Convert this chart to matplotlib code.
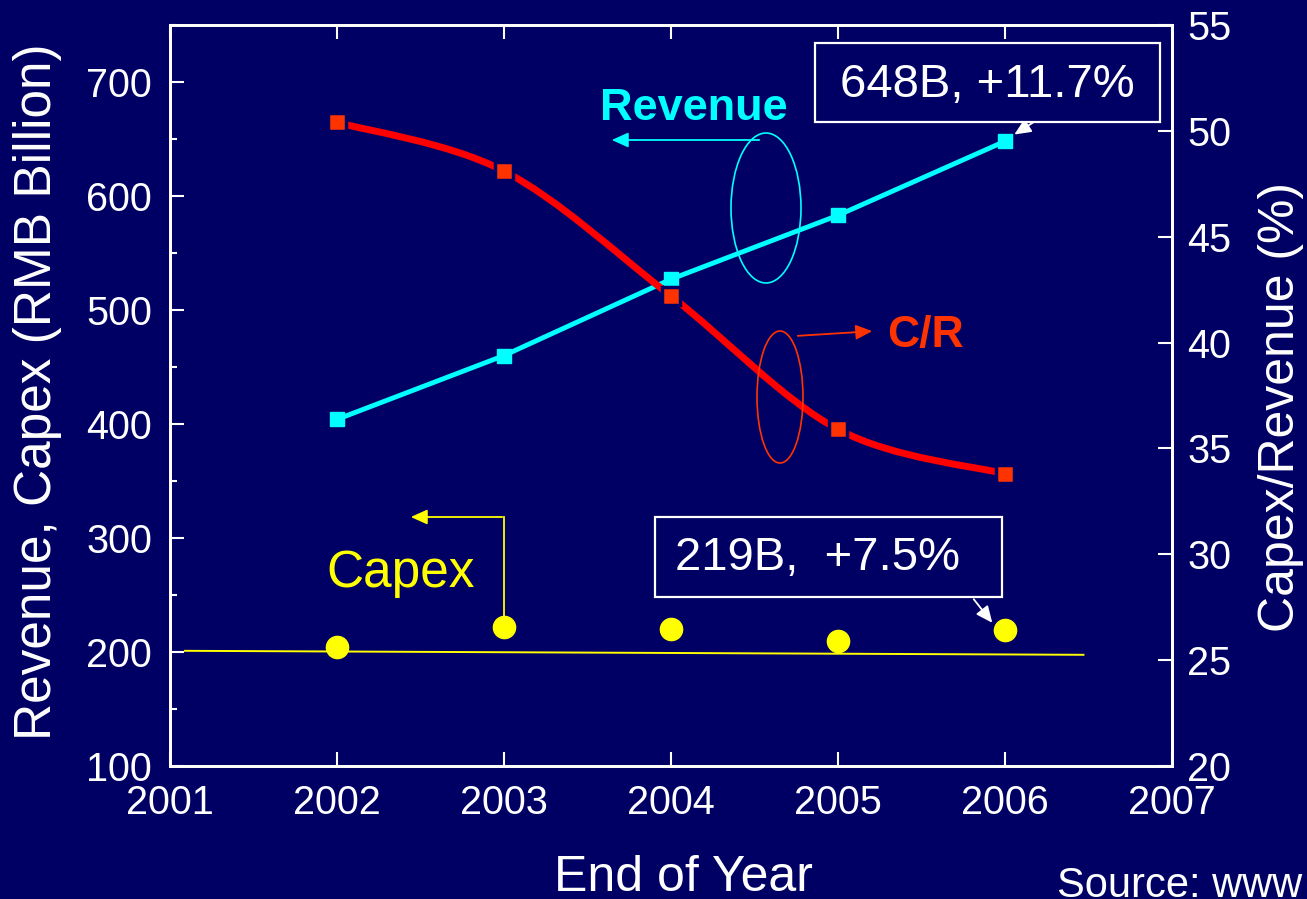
import matplotlib
matplotlib.use("Agg")
import matplotlib.pyplot as plt
from matplotlib.path import Path
from matplotlib.patches import PathPatch, Ellipse, Rectangle
from matplotlib.ticker import MultipleLocator
import numpy as np

plt.rcParams['font.family'] = ['Liberation Sans', 'DejaVu Sans']

# ---- data ----
years = [2002, 2003, 2004, 2005, 2006]
revenue = [404, 460, 527, 583, 648]
capex = [204, 222, 220, 210, 219]
cr_ratio = [50.4, 48.1, 42.2, 35.9, 33.8]
trend_x = [2001.09, 2006.47]
trend_y = [201.0, 197.5]
x_ticks = [2001, 2002, 2003, 2004, 2005, 2006, 2007]
left_ticks = [100, 200, 300, 400, 500, 600, 700]
right_ticks = [20, 25, 30, 35, 40, 45, 50, 55]

BG = '#000064'
CYAN = '#00FFFF'
RED = '#FF0000'
ORANGE = '#FF3300'
YELLOW = '#FFFF00'
WHITE = 'white'

fig = plt.figure(figsize=(13.07, 8.99), dpi=100, facecolor=BG)
ax = fig.add_axes([0.130, 0.148, 0.7667, 0.8242])
ax.set_facecolor(BG)
ax2 = ax.twinx()

ax.set_xlim(2001, 2007)
ax.set_ylim(100, 750)
ax2.set_ylim(20, 55)

for a in (ax, ax2):
    for s in a.spines.values():
        s.set_color(WHITE)
        s.set_linewidth(2)

ax.set_xticks(x_ticks)
ax.set_xticklabels([str(v) for v in x_ticks])
ax.set_yticks(left_ticks)
ax.yaxis.set_minor_locator(MultipleLocator(50))
ax2.set_yticks(right_ticks)

ax.tick_params(axis='x', which='major', direction='in', length=10, width=1.5,
               colors=WHITE, labelsize=28.5, pad=13, top=True)
ax.tick_params(axis='y', which='major', direction='in', length=10, width=1.5,
               colors=WHITE, labelsize=28.5, pad=13)
ax.tick_params(axis='y', which='minor', direction='in', length=5, width=1.5,
               colors=WHITE)
ax2.tick_params(axis='y', which='major', direction='in', length=10, width=1.5,
                colors=WHITE, labelsize=28.5, pad=11)

# Capex trend line and points
ax.plot(trend_x, trend_y, color=YELLOW, lw=1.4, zorder=2)
ax.plot(years, capex, 'o', color=YELLOW, markersize=16, zorder=4)

# Revenue line
ax.plot(years, revenue, '-s', color=CYAN, lw=3.5, markersize=10.5, zorder=5)

# C/R smooth curve (Catmull-Rom through data points, drawn as bezier)
pts = np.column_stack([years, cr_ratio]).astype(float)
ext = np.vstack([pts[0], pts, pts[-1]])
verts = [tuple(pts[0])]
codes = [Path.MOVETO]
for i in range(1, len(ext) - 2):
    p0, p1, p2, p3 = ext[i - 1], ext[i], ext[i + 1], ext[i + 2]
    c1 = p1 + (p2 - p0) / 6.0
    c2 = p2 - (p3 - p1) / 6.0
    verts += [tuple(c1), tuple(c2), tuple(p2)]
    codes += [Path.CURVE4] * 3
curve = PathPatch(Path(verts, codes), facecolor='none', edgecolor=RED, lw=5,
                  transform=ax2.transData, zorder=3)
ax2.add_patch(curve)
ax2.plot(years, cr_ratio, 's', color=ORANGE, markersize=12.5,
         markeredgecolor=BG, markeredgewidth=2.5, zorder=4)

def fx(px):
    return px / 1307
def fy(py):
    return 1 - py / 899
ft = fig.transFigure

# Series labels
fig.text(fx(694), fy(108), 'Revenue', color=CYAN, fontsize=32.5,
         fontweight='bold', ha='center', va='center')
fig.text(fx(925), fy(335), 'C/R', color=ORANGE, fontsize=32,
         fontweight='bold', ha='center', va='center')
fig.text(fx(401), fy(573), 'Capex', color=YELLOW, fontsize=37,
         ha='center', va='center')

# Ellipses
fig.patches.append(Ellipse((fx(766), fy(208)), 70 / 1307, 150 / 899,
                           transform=ft, facecolor='none', edgecolor=CYAN, lw=1.2))
fig.patches.append(Ellipse((fx(780), fy(397)), 46 / 1307, 132 / 899,
                           transform=ft, facecolor='none', edgecolor=ORANGE, lw=1.2))

# Arrows
arrow_kw = dict(arrowstyle='-|>,head_length=1.0,head_width=0.45', lw=1.3)
ax.annotate('', xy=(fx(609), fy(140)), xycoords='figure fraction',
            xytext=(fx(762), fy(140)), textcoords='figure fraction',
            arrowprops=dict(color=CYAN, **arrow_kw))
ax.annotate('', xy=(fx(875), fy(331)), xycoords='figure fraction',
            xytext=(fx(795), fy(336)), textcoords='figure fraction',
            arrowprops=dict(color=ORANGE, **arrow_kw))
fig.add_artist(plt.Line2D([fx(504), fx(504)], [fy(617), fy(517)],
                          transform=ft, color=YELLOW, lw=1.3))
ax.annotate('', xy=(fx(408), fy(517)), xycoords='figure fraction',
            xytext=(fx(505), fy(517)), textcoords='figure fraction',
            arrowprops=dict(color=YELLOW, **arrow_kw))
ax.annotate('', xy=(fx(1012), fy(136)), xycoords='figure fraction',
            xytext=(fx(1037), fy(120)), textcoords='figure fraction',
            arrowprops=dict(color=WHITE, **arrow_kw))
ax.annotate('', xy=(fx(994), fy(625)), xycoords='figure fraction',
            xytext=(fx(972), fy(597)), textcoords='figure fraction',
            arrowprops=dict(color=WHITE, **arrow_kw))

# Boxes with values
fig.patches.append(Rectangle((fx(815), fy(122)), 345 / 1307, 79 / 899,
                             transform=ft, facecolor=BG, edgecolor=WHITE, lw=1.6, zorder=6))
fig.text(fx(987), fy(85), '648B, +11.7%', color=WHITE, fontsize=34,
         ha='center', va='center', zorder=7)
fig.patches.append(Rectangle((fx(655), fy(597)), 347 / 1307, 80 / 899,
                             transform=ft, facecolor=BG, edgecolor=WHITE, lw=1.6, zorder=6))
fig.text(fx(675), fy(558), '219B,  +7.5%', color=WHITE, fontsize=34,
         ha='left', va='center', zorder=7)

# Axis labels
fig.text(fx(38), fy(392), 'Revenue, Capex (RMB Billion)', color=WHITE,
         fontsize=37, rotation=90, ha='center', va='center')
fig.text(fx(1281), fy(407), 'Capex/Revenue (%)', color=WHITE,
         fontsize=36, rotation=90, ha='center', va='center')
fig.text(fx(683), fy(878), 'End of Year', color=WHITE, fontsize=36,
         ha='center', va='center')
fig.text(fx(1057), fy(886), 'Source: www', color=WHITE, fontsize=30,
         ha='left', va='center')

fig.savefig('out.png', dpi=100, facecolor=BG)
